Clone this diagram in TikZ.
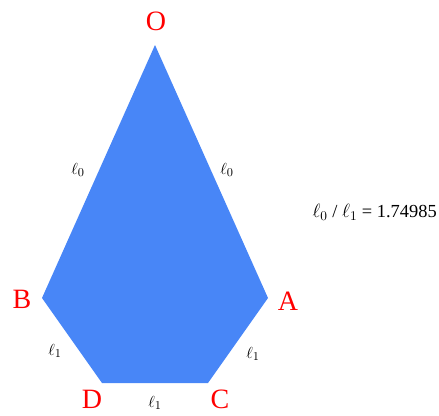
\documentclass[tikz,border=0pt]{standalone}
\usepackage{fontspec}
\setmainfont{Liberation Serif}
\usetikzlibrary{positioning}
\definecolor{kiteblue}{RGB}{72,134,247}

\begin{document}
\begin{tikzpicture}[x=0.75pt,y=-0.75pt,
  vlabel/.style={text=red,font=\fontsize{21}{24}\selectfont,inner sep=0pt},
  slabel/.style={font=\fontsize{12.5}{14}\selectfont,inner sep=0pt}]
\useasboundingbox (0,0) rectangle (439,415);
% corners of the kite
\coordinate (o) at (155,45);
\coordinate (a) at (268,298);
\coordinate (c) at (208,383);
\coordinate (d) at (102,383);
\coordinate (b) at (42,298);
\fill[kiteblue] (o) -- (a) -- (c) -- (d) -- (b) -- cycle;
% corner names
\node[vlabel] (lo) at (156,21) {O};
\node[vlabel] (la) at (288,301) {A};
\node[vlabel] (lb) at (22,299) {B};
\node[vlabel] (lc) at (220,399) {C};
\node[vlabel] (ld) at (92,399) {D};
% side lengths
\node[slabel] (ob) at (78,170) {$\ell_0$};
\node[slabel] (oa) at (227,170) {$\ell_0$};
\node[slabel] (bd) at (55,351) {$\ell_1$};
\node[slabel] (ac) at (253,354) {$\ell_1$};
\node[slabel] (dc) at (155,403) {$\ell_1$};
% ratio
\node[slabel,anchor=east,font=\fontsize{13.8}{16}\selectfont] (ratio) at (437,212) {$\ell_0$ / $\ell_1$ = 1.74985};
\end{tikzpicture}
\end{document}
